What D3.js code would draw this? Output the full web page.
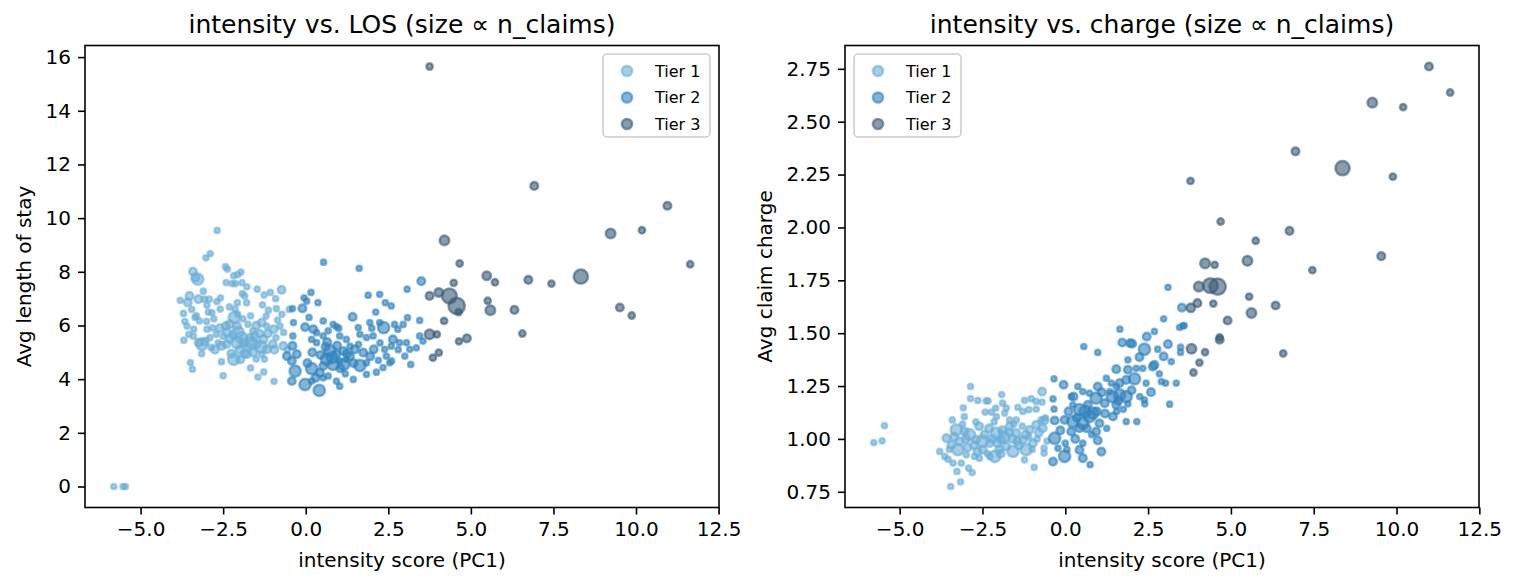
<!doctype html>
<html>
<head>
<meta charset="utf-8">
<script src="https://d3js.org/d3.v7.min.js"></script>
<style>
  body { margin: 0; background: #fff; }
  svg { display: block; font-family: "DejaVu Sans", sans-serif; }
</style>
</head>
<body>
<svg id="chart" width="1517" height="586"></svg>
<script>
// each point: [intensity score, value, n_claims]
var losTier1 = [
  [-2.68,9.54,15],[-3.02,8.52,15],[-2.89,8.68,15],[-2.43,8.19,15],[-2.37,8.10,15],
  [-3.41,8.01,32],[-3.27,7.73,70],[-3.34,7.78,32],[-2.18,7.85,15],[-2.06,7.90,15],[-1.96,7.99,15],
  [-2.41,7.60,15],[-2.23,7.56,15],[-2.13,7.56,15],[-1.93,7.60,15],[-1.78,7.44,15],[-3.10,7.28,15],
  [-0.73,7.33,32],[-1.47,7.35,15],[-1.26,7.14,15],[-1.07,7.23,15],[-0.91,7.00,15],
  [-3.80,6.94,15],[-3.52,7.10,32],[-3.57,6.86,32],[-3.25,6.98,32],[-3.07,6.98,15],[-2.92,6.98,15],
  [-2.69,6.89,15],[-2.58,7.03,15],[-1.92,7.19,15],[-1.85,7.10,15],[-2.07,6.85,15],[-1.79,6.85,15],
  [-1.31,6.77,15],[-1.13,6.57,15],[-0.89,6.63,15],[-0.72,6.42,15],[-2.99,6.76,15],[-2.84,6.48,15],
  [-2.59,6.61,15],[-2.31,6.69,15],[-2.14,6.61,15],[-2.06,6.42,15],[-1.67,6.36,15],
  [-3.31,6.36,15],[-3.35,6.30,15],[-3.22,6.17,15],[-3.66,6.15,15],[-3.59,5.98,15],[-3.39,5.86,15],
  [-3.54,5.67,15],[-2.99,5.86,15],[-2.82,5.91,15],[-2.71,5.67,15],[-3.69,5.45,15],
  [-3.24,5.36,32],[-3.14,5.30,70],[-2.86,5.18,15],[-2.42,5.98,32],[-2.38,5.74,32],
  [-2.16,6.30,70],[-2.08,5.98,32],[-2.08,5.36,70],[-1.88,5.36,32],[-1.68,5.55,32],[-1.48,5.30,32],
  [-1.28,5.49,32],[-1.18,5.11,32],[-1.33,6.11,32],[-1.18,5.98,15],[-0.97,5.86,32],[-0.78,5.98,15],
  [-0.67,5.74,15],[-2.54,5.24,32],[-2.18,4.74,70],[-1.98,4.74,32],[-1.78,4.93,32],[-1.58,4.99,32],
  [-1.33,4.93,15],[-1.67,4.42,15],[-1.27,4.27,15],[-1.45,4.08,15],[-0.96,3.92,15],[-2.50,4.13,15],
  [-3.49,4.62,15],[-3.43,4.37,15],[-5.81,0,15],[-5.53,0,15],[-5.46,0,15],[-0.68,5.24,32],
  [-2.30,5.50,32],[-2.00,5.10,32],[-1.60,5.80,15],[-1.40,5.70,32],[-1.00,5.30,32],[-0.90,5.55,15],
  [-2.50,5.60,15],[-2.65,5.35,15],[-2.90,5.55,15],[-1.75,6.05,15],[-2.25,4.95,32],[-0.55,5.10,15],
  [-0.50,6.60,15],[-2.78,6.25,15],[-3.00,6.15,15],
  [-2.40,5.30,32],[-2.20,5.65,32],[-1.95,5.55,70],[-1.75,5.20,32],[-1.55,5.60,32],[-1.35,5.20,70],
  [-1.15,5.70,32],[-0.95,5.10,32],[-2.60,5.90,32],[-2.30,6.05,32],[-1.90,6.25,15],[-1.50,6.00,32],
  [-1.20,6.35,15],[-2.75,5.10,32],[-3.05,5.40,32],[-3.40,5.60,15],[-1.85,4.95,32],[-1.50,4.75,15],
  [-2.05,5.75,70],[-1.65,5.35,70],[-1.25,4.75,15],[-0.85,6.20,15],[-2.95,6.50,15],[-3.45,6.60,15],
  [-3.15,4.95,15],[-3.70,6.45,15],[-2.55,4.65,15]
];
var losTier2 = [
  [0.54,8.36,15],[1.62,8.13,15],[3.50,7.65,32],[3.07,7.35,15],[1.89,7.13,15],[2.24,7.16,15],
  [2.41,6.85,15],[2.59,6.73,15],[0.16,7.23,15],[-0.05,7.03,15],[0.03,6.91,15],[0.37,6.85,15],
  [-0.10,6.64,32],[-0.40,6.63,15],[2.12,6.50,15],[1.42,6.32,32],[0.53,6.17,15],[0.83,6.04,15],
  [0.93,5.96,15],[0.68,5.80,15],[0.53,5.61,15],[0.33,5.73,15],[0.18,5.48,15],[0.65,5.38,32],
  [0.33,5.36,15],[-0.02,5.94,32],[0.23,5.86,32],[-0.37,6.11,15],[-0.39,5.61,15],[-0.40,5.24,32],
  [1.03,5.61,15],[1.23,5.48,15],[1.34,5.23,15],[1.59,5.92,15],[1.94,6.11,15],[2.24,6.11,15],
  [1.64,5.67,15],[1.84,5.55,15],[2.04,5.61,15],[2.36,5.92,70],[2.64,5.48,32],[2.79,5.86,15],
  [2.95,6.04,15],[3.08,6.29,15],[3.45,6.19,15],[2.59,5.23,15],[2.84,5.36,15],[3.05,5.36,15],
  [3.45,5.61,15],[3.55,5.42,15],[3.15,5.11,15],[3.00,4.86,15],[3.35,5.17,15],[2.06,5.11,32],
  [2.39,5.11,15],[2.44,4.86,15],[2.54,4.61,15],[2.34,4.43,15],[2.14,4.26,15],[3.18,4.55,15],
  [1.84,4.61,15],[1.84,4.18,15],[1.64,4.51,70],[1.74,4.99,32],[1.49,5.11,32],[1.34,4.86,32],
  [1.14,5.05,32],[0.93,4.93,32],[0.73,5.05,70],[0.63,4.74,70],[0.83,4.55,70],[1.03,4.68,15],
  [1.23,4.74,15],[0.53,4.49,32],[0.43,4.24,32],[0.68,4.12,15],[0.93,3.93,15],[1.03,3.74,15],
  [1.44,3.99,15],[0.18,4.39,70],[-0.32,4.30,70],[-0.42,4.68,32],[-0.27,4.93,32],[-0.57,4.86,32],
  [-0.42,3.93,32],[-0.02,3.80,70],[0.18,3.93,15],[0.41,3.58,70],[0.53,4.05,15],[2.60,4.68,15],
  [2.69,6.04,15],
  [0.45,4.90,32],[0.80,4.80,70],[1.05,4.40,32],[1.25,4.95,32],[1.45,4.60,32],[1.95,4.85,32],
  [2.20,4.70,15],[0.95,5.25,32],[1.60,5.30,15],[2.25,5.35,15],[0.20,5.00,32],[0.05,4.60,32],
  [0.30,4.05,32],[1.20,4.20,15],[2.80,5.10,15],[2.00,5.90,15],[1.00,5.90,15],[0.10,6.30,15],
  [1.15,4.55,70],[0.60,5.20,32]
];
var losTier3 = [
  [3.75,15.65,22],[6.92,11.20,32],[10.95,10.46,32],[9.23,9.43,50],[10.18,9.55,22],[11.64,8.28,22],
  [4.20,9.17,50],[4.66,8.31,22],[8.33,7.82,110],[5.48,7.85,40],[5.73,7.61,22],[6.74,7.70,32],
  [7.44,7.56,22],[4.48,7.59,22],[4.35,7.10,120],[4.57,6.73,145],[4.63,6.50,22],[4.03,7.23,40],
  [3.75,7.10,32],[5.51,6.92,22],[5.59,6.57,50],[6.32,6.58,32],[4.19,6.17,22],[3.75,5.67,50],
  [3.97,5.67,22],[9.51,6.67,32],[9.87,6.37,22],[6.56,5.70,22],[4.64,5.41,22],[4.88,5.52,32],
  [4.03,4.99,22],[3.85,4.80,22]
];

var chargeTier1 = [
  [-5.78,0.983,15],[-5.53,0.991,15],[-5.46,1.063,15],[-2.86,1.248,15],[-2.86,1.191,15],
  [-2.64,1.182,15],[-2.39,1.180,15],[-2.33,1.180,15],[-1.92,1.210,15],[-1.89,1.169,15],
  [-3.08,1.147,15],[-3.05,1.105,15],[-3.41,1.090,15],[-2.42,1.127,15],[-2.23,1.127,15],
  [-2.10,1.146,15],[-2.08,1.106,15],[-1.78,1.146,15],[-1.83,1.122,15],[-1.68,1.090,15],
  [-1.48,1.090,15],[-1.43,1.149,15],[-1.23,1.182,15],[-1.03,1.190,15],[-0.88,1.177,15],
  [-0.70,1.174,15],[-1.28,1.130,15],[-1.10,1.138,15],[-0.88,1.141,15],[-0.70,1.224,32],
  [-3.59,1.004,32],[-3.29,1.043,70],[-3.04,1.035,32],[-3.19,0.988,32],[-2.89,1.020,70],
  [-2.69,0.996,32],[-3.44,0.972,32],[-3.24,0.949,70],[-2.99,0.925,15],[-2.74,0.917,15],
  [-2.49,0.949,32],[-2.28,0.980,32],[-2.44,1.020,32],[-2.08,1.027,70],[-1.93,0.996,32],
  [-1.78,0.964,32],[-1.58,0.941,70],[-1.28,0.996,32],[-1.08,1.043,32],[-0.88,1.067,32],
  [-0.73,1.090,15],[-0.68,1.051,32],[-0.98,0.980,32],[-1.18,0.949,70],[-1.48,1.027,32],
  [-1.68,1.059,32],[-2.13,0.917,70],[-3.79,0.941,15],[-3.64,0.917,15],[-3.54,0.904,15],
  [-3.39,0.886,15],[-3.14,0.886,15],[-3.27,0.846,15],[-2.92,0.862,15],[-2.81,0.841,15],
  [-3.16,0.797,15],[-3.46,0.775,15],[-2.59,0.909,15],[-2.28,0.917,15],[-1.23,0.901,15],
  [-0.94,0.865,15],[-0.64,0.933,15],[-0.64,0.956,15],[-2.60,1.060,32],[-2.30,1.050,32],
  [-1.90,1.040,32],[-2.00,0.950,32],[-1.40,0.970,32],[-0.85,1.000,15],[-3.00,1.000,32],
  [-2.75,0.970,32],[-1.60,1.000,32],[-1.10,1.010,15],[-0.60,1.100,15],[-0.63,1.087,32],
  [-0.55,0.990,15],
  [-2.50,0.990,70],[-2.20,1.000,32],[-1.85,1.010,70],[-1.45,0.990,32],[-1.20,1.020,32],
  [-2.95,0.960,32],[-3.35,1.010,32],[-2.65,0.940,32],[-1.95,0.930,32],[-1.70,1.030,32],
  [-1.00,0.950,15],[-2.35,0.930,15],[-3.10,1.070,15],[-2.70,1.080,15],[-2.15,1.080,15],
  [-1.55,1.070,15],[-0.80,1.030,32],[-3.50,0.950,15],[-1.30,1.060,15],[-2.05,0.980,32]
];
var chargeTier2 = [
  [3.10,1.717,15],[3.52,1.621,32],[3.55,1.535,15],[3.45,1.528,15],[2.97,1.568,15],[2.69,1.508,15],
  [1.65,1.519,15],[1.72,1.456,32],[1.96,1.453,32],[2.02,1.450,32],[2.46,1.484,32],[3.10,1.448,32],
  [2.39,1.424,70],[2.79,1.424,15],[2.24,1.387,32],[2.69,1.350,32],[2.64,1.342,32],[2.97,1.390,32],
  [3.20,1.366,15],[1.89,1.374,15],[0.98,1.409,15],[0.56,1.437,15],[2.14,1.334,15],[2.34,1.334,15],
  [1.54,1.330,32],[1.89,1.327,32],[2.84,1.308,15],[2.09,1.284,70],[1.84,1.279,32],[1.64,1.264,32],
  [2.44,1.264,15],[2.90,1.271,15],[3.03,1.264,15],[3.35,1.264,15],[2.59,1.221,32],[2.39,1.185,15],
  [2.40,1.166,15],[3.15,1.164,15],[1.24,1.287,15],[0.98,1.248,32],[1.39,1.264,15],[1.54,1.248,15],
  [1.34,1.224,15],[1.42,1.200,70],[1.64,1.208,70],[1.84,1.200,70],[1.89,1.166,15],[1.54,1.161,32],
  [1.19,1.169,32],[0.93,1.193,70],[0.73,1.216,15],[0.53,1.224,15],[0.38,1.248,15],[0.68,1.161,32],
  [0.43,1.138,70],[0.23,1.161,15],[0.18,1.200,15],[-0.05,1.256,32],[-0.34,1.284,15],[-0.37,1.189,15],
  [-0.34,1.141,15],[-0.02,1.090,32],[-0.32,1.087,32],[0.23,1.082,70],[0.53,1.074,70],[0.73,1.106,70],
  [0.83,1.122,70],[1.03,1.074,32],[1.44,1.106,32],[1.84,1.082,15],[2.16,1.082,15],[0.93,1.035,32],
  [0.98,0.993,32],[1.09,0.940,32],[0.43,1.051,32],[0.18,1.035,32],[-0.32,1.003,70],[-0.22,0.956,15],
  [0.00,0.980,15],[0.53,0.980,15],[0.43,0.948,32],[-0.02,0.917,70],[-0.37,0.893,32],[0.53,0.909,32],
  [0.75,0.878,15],[3.48,1.434,15],[3.48,1.409,15],[3.59,1.536,15],
  [0.10,1.130,32],[0.35,1.100,32],[0.60,1.130,70],[0.95,1.130,32],[1.20,1.120,32],[1.55,1.130,15],
  [0.65,1.050,32],[1.25,1.050,15],[0.30,1.000,32],[0.80,1.020,15],[1.60,1.180,32],[2.00,1.230,32],
  [1.10,1.220,32],[0.25,1.200,32],[-0.15,1.040,32],[1.75,1.140,15],[2.25,1.200,15],[0.05,0.950,15]
];
var chargeTier3 = [
  [10.98,2.761,32],[11.62,2.638,22],[9.27,2.590,50],[10.20,2.569,22],[6.95,2.360,32],[8.37,2.280,110],
  [9.89,2.240,22],[3.78,2.220,22],[4.69,2.028,22],[6.77,1.984,32],[5.75,1.937,22],[9.54,1.864,32],
  [5.50,1.842,50],[4.22,1.830,50],[4.51,1.823,22],[7.46,1.798,22],[4.03,1.720,50],[4.38,1.725,120],
  [4.60,1.720,145],[5.55,1.673,22],[3.99,1.642,32],[3.79,1.620,40],[4.47,1.640,22],[6.35,1.631,32],
  [5.62,1.595,50],[4.90,1.560,32],[4.66,1.480,22],[4.66,1.469,32],[3.81,1.426,50],[4.22,1.410,22],
  [6.58,1.404,22],[4.05,1.361,22],[3.87,1.314,22]
];

var tierNames = ["Tier 1", "Tier 2", "Tier 3"];
var tierColors = ["#6baed6", "#3182bd", "#3a5a78"];
var xTicks = [-5, -2.5, 0, 2.5, 5, 7.5, 10, 12.5];
var losTicks = [0, 2, 4, 6, 8, 10, 12, 14, 16];
var chargeTicks = [0.75, 1.0, 1.25, 1.5, 1.75, 2.0, 2.25, 2.5, 2.75];

var svg = d3.select("#chart");
var plotTop = 45.5, plotBottom = 507.5, panelW = 634;

// marker size: area proportional to n_claims
var rScale = d3.scaleSqrt().domain([0, 150]).range([0, 8.3]);

// matplotlib style limits: data extent padded 5% each side
function padded(ext) {
  var p = (ext[1] - ext[0]) * 0.05;
  return [ext[0] - p, ext[1] + p];
}

function drawPanel(cfg) {
  var all = [].concat(cfg.tiers[0], cfg.tiers[1], cfg.tiers[2]);
  var x = d3.scaleLinear().domain(padded(d3.extent(all, d => d[0]))).range([cfg.left, cfg.left + panelW]);
  var y = d3.scaleLinear().domain(padded(d3.extent(all, d => d[1]))).range([plotBottom, plotTop]);

  var g = svg.append("g");

  // scatter, one layer per tier
  cfg.tiers.forEach(function (pts, i) {
    g.append("g").selectAll("circle")
      .data(pts)
      .enter()
      .append("circle")
      .attr("cx", d => x(d[0]))
      .attr("cy", d => y(d[1]))
      .attr("r", d => rScale(d[2]))
      .style("fill", tierColors[i]).style("fill-opacity", 0.6)
      .style("stroke", tierColors[i]).style("stroke-opacity", 0.6)
      .style("stroke-width", 2.5);
  });

  var xAxis = g.append("g").attr("transform", "translate(0," + plotBottom + ")")
    .call(d3.axisBottom(x).tickValues(xTicks).tickFormat(d3.format(".1f")).tickSize(7).tickPadding(7));
  var yAxis = g.append("g").attr("transform", "translate(" + cfg.left + ",0)")
    .call(d3.axisLeft(y).tickValues(cfg.yTicks).tickFormat(cfg.yFmt).tickSize(7).tickPadding(7));
  [xAxis, yAxis].forEach(function (a) {
    a.select(".domain").remove();
    a.selectAll("line").style("stroke", "#000").style("stroke-width", 1.6);
    a.selectAll("text").style("font-size", "20px").style("fill", "#000").style("font-family", "DejaVu Sans");
  });

  // frame
  g.append("rect")
    .attr("x", cfg.left).attr("y", plotTop)
    .attr("width", panelW).attr("height", plotBottom - plotTop)
    .style("fill", "none").style("stroke", "#000").style("stroke-width", 1.6);

  g.append("text")
    .attr("x", cfg.left + panelW / 2).attr("y", 33)
    .attr("text-anchor", "middle").style("font-size", "25px")
    .text(cfg.title);

  g.append("text")
    .attr("x", cfg.left + panelW / 2).attr("y", 567)
    .attr("text-anchor", "middle").style("font-size", "20px")
    .text("intensity score (PC1)");

  g.append("text")
    .attr("transform", "translate(" + cfg.ylabelX + "," + (plotTop + plotBottom) / 2 + ") rotate(-90)")
    .attr("text-anchor", "middle").style("font-size", "20px")
    .text(cfg.ylabel);

  // legend
  var lg = g.append("g").attr("transform", "translate(" + cfg.legendX + ",54)");
  lg.append("rect")
    .attr("width", 107).attr("height", 83).attr("rx", 4)
    .style("fill", "#fff").style("fill-opacity", 0.8)
    .style("stroke", "#cccccc").style("stroke-width", 1.5);
  tierNames.forEach(function (name, i) {
    var yy = 17 + i * 26.5;
    lg.append("circle")
      .attr("cx", 24).attr("cy", yy).attr("r", 5.1)
      .style("fill", tierColors[i]).style("fill-opacity", 0.6)
      .style("stroke", tierColors[i]).style("stroke-opacity", 0.6)
      .style("stroke-width", 2.5);
    lg.append("text")
      .attr("x", 52).attr("y", yy).attr("dy", "0.35em")
      .style("font-size", "16px")
      .text(name);
  });
}

drawPanel({
  left: 85, title: "intensity vs. LOS (size \u221d n_claims)", ylabel: "Avg length of stay",
  tiers: [losTier1, losTier2, losTier3], yTicks: losTicks, yFmt: d3.format("d"),
  legendX: 603, ylabelX: 31
});
drawPanel({
  left: 845, title: "intensity vs. charge (size \u221d n_claims)", ylabel: "Avg claim charge",
  tiers: [chargeTier1, chargeTier2, chargeTier3], yTicks: chargeTicks, yFmt: d3.format(".2f"),
  legendX: 854, ylabelX: 772
});
</script>
</body>
</html>
